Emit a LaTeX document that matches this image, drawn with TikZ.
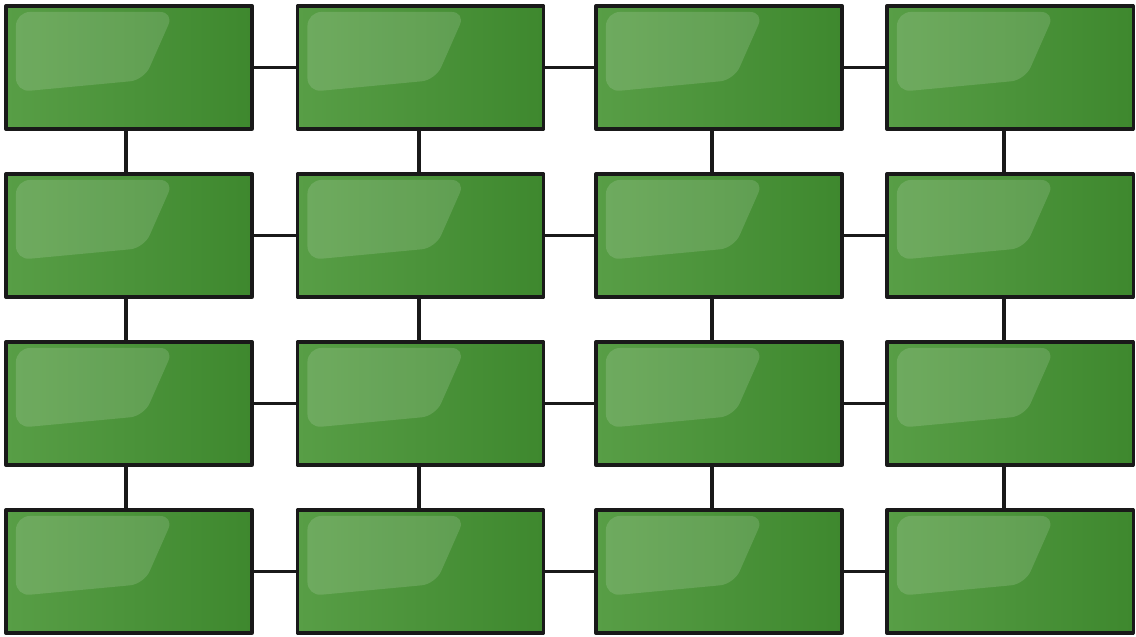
\documentclass[tikz,border=0pt]{standalone}
\usetikzlibrary{positioning}
\definecolor{boxlight}{RGB}{88,158,70}
\definecolor{boxdark}{RGB}{62,136,46}
\begin{document}
\begin{tikzpicture}[x=0.01cm,y=-0.01cm,line cap=round,line join=round,
  box/.style={draw=black!90,line width=0.9pt,minimum width=2.46cm,minimum height=1.23cm,inner sep=0pt,
    left color=boxlight,right color=boxdark,
    path picture={
      \fill[white,opacity=0.14,rounded corners=4pt]
        ([shift={(0.1cm,-0.06cm)}]path picture bounding box.north west) -- ++(1.58cm,0)
        -- ++(-0.3cm,-0.68cm) -- ([shift={(0.1cm,0.37cm)}]path picture bounding box.south west) -- cycle;}},
  link/.style={line width=0.9pt,black!90}]
  \useasboundingbox (0,0) rectangle (1136,636);
  % grid of boxes
  \foreach \r/\y in {1/67.5,2/235.5,3/403.5,4/571.5}
    \foreach \c/\x in {1/129,2/420.5,3/719,4/1010}
      \node[box] (b\r\c) at (\x,\y) {};
  % row links
  \foreach \r in {1,2,3,4}
    \foreach \c/\d in {1/2,2/3,3/4}
      \draw[link] (b\r\c.east) -- (b\r\d.west);
  % column links, a little left of centre
  \foreach \c/\o in {1/-0.03,2/-0.015,3/-0.07,4/-0.06}
    \foreach \r/\s in {1/2,2/3,3/4}
      \draw[link] ([xshift=\o cm]b\r\c.south) -- ([xshift=\o cm]b\s\c.north);
\end{tikzpicture}
\end{document}
